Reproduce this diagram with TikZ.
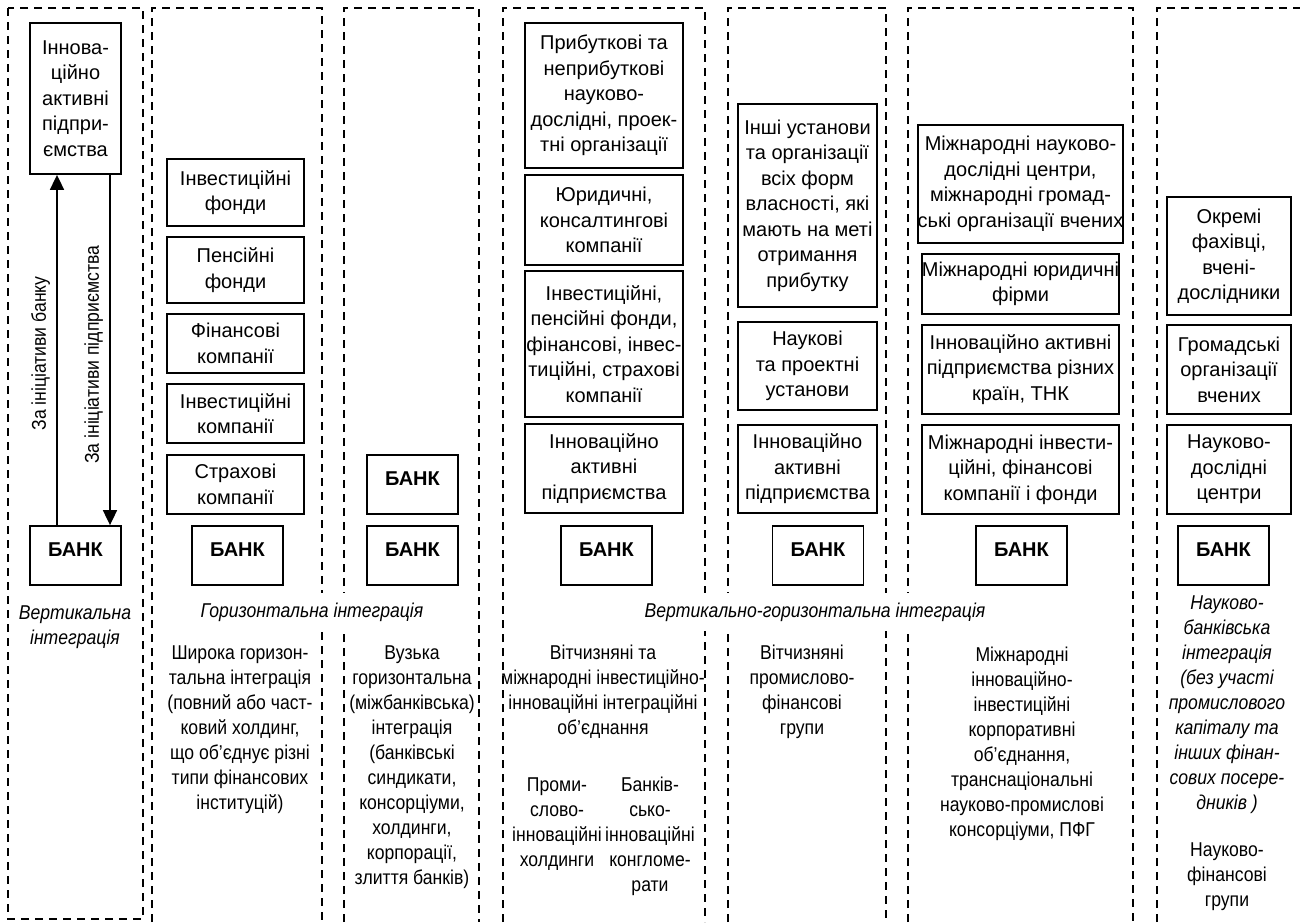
\documentclass[tikz,border=0pt]{standalone}
\usepackage{fontspec}
\setmainfont{Liberation Sans}
\newfontfamily\narrowfont[FakeStretch=0.88]{Liberation Sans}
\usetikzlibrary{arrows.meta}

\newcommand{\basefont}{\fontsize{20}{25.5}\selectfont}
\newcommand{\notefont}{\narrowfont\fontsize{20}{25}\selectfont}

\tikzset{
  frame/.style={dash pattern=on 8pt off 6pt, line width=1.5pt},
  box/.style={draw, line width=1.8pt, align=center, inner sep=0pt},
  bank/.style={box, minimum width=91pt, minimum height=59pt, text depth=12pt, font=\basefont\bfseries},
  note/.style={align=center, inner sep=0pt, font=\notefont},
  kind/.style={align=center, inner sep=0pt, font=\notefont\itshape},
  arr/.style={line width=1.8pt, -{Triangle[length=15pt,width=14pt]}},
}

\begin{document}
\begin{tikzpicture}[x=1pt, y=-1pt, font=\basefont]
            \useasboundingbox (0,0) rectangle (1300,922);

            \draw[frame] (8,8) rectangle (143,919);
            \draw[frame] (152,922) |- (322,8) -- (322,922);
            \draw[frame] (344,922) |- (479,8) -- (479,922);
            \draw[frame] (503,922) |- (705,8) -- (705,922);
            \draw[frame] (728,922) |- (886,8) -- (886,922);
            \draw[frame] (908,922) |- (1133,8) -- (1133,922);
            \draw[frame] (1157,922) |- (1300,8);

            \node[box, minimum width=91pt, minimum height=151pt] (vtop) at (75.5,98.5) {Іннова-\\ційно\\активні\\підпри-\\ємства};
            \node[bank] (vbank) at (75.5,555.5) {БАНК};
            \draw[arr] ([xshift=-18.5pt]vbank.north) -- ([xshift=-18.5pt]vtop.south)
                node[pos=0.49, sloped, above=6pt, inner sep=0pt, font=\notefont] {За ініціативи банку};
            \draw[arr, {Triangle[length=15pt,width=14pt]}-] ([xshift=34.5pt]vbank.north) -- ([xshift=34.5pt]vtop.south)
                node[pos=0.486, sloped, above=6pt, inner sep=0pt, font=\notefont] {За ініціативи підприємства};
            \node[kind] (vkind) at (75,627) {Вертикальна\\інтеграція};

            \node[box, minimum width=137pt, minimum height=67pt] (hfund) at (235.5,192.5) {Інвестиційні\\фонди};
            \node[box, minimum width=137pt, minimum height=66pt] (hpens) at (235.5,270) {Пенсійні\\фонди};
            \node[box, minimum width=137pt, minimum height=59pt] (hfin) at (235.5,343.5) {Фінансові\\компанії};
            \node[box, minimum width=137pt, minimum height=59pt] (hinv) at (235.5,413.5) {Інвестиційні\\компанії};
            \node[box, minimum width=137pt, minimum height=59pt] (hins) at (235.5,484.5) {Страхові\\компанії};
            \node[bank] (hbank) at (237.5,555.5) {БАНК};
            \node[note] (hwide) at (240,730) {Широка горизон-\\тальна інтеграція\\(повний або част-\\ковий холдинг,\\що об’єднує різні\\типи фінансових\\інституцій)};

            \node[bank] (nbanka) at (412.5,484.5) {БАНК};
            \node[bank] (nbankb) at (412.5,555.5) {БАНК};
            \node[note] (nnarrow) at (412,767) {Вузька\\горизонтальна\\(міжбанківська)\\інтеграція\\(банківські\\синдикати,\\консорціуми,\\холдинги,\\корпорації,\\злиття банків)};

            \node[kind, fill=white, inner ysep=10pt, inner xsep=3pt] (hkind) at (312,612) {Горизонтальна інтеграція};

            \node[box, minimum width=158pt, minimum height=145pt] (dsci) at (604,95.5) {Прибуткові та\\неприбуткові\\науково-\\дослідні, проек-\\тні організації};
            \node[box, minimum width=158pt, minimum height=90pt] (dlaw) at (604,220) {Юридичні,\\консалтингові\\компанії};
            \node[box, minimum width=158pt, minimum height=146pt] (dfin) at (604,344) {Інвестиційні,\\пенсійні фонди,\\фінансові, інвес-\\тиційні, страхові\\компанії};
            \node[box, minimum width=158pt, minimum height=89pt] (dent) at (604,468.5) {Інноваційно\\активні\\підприємства};
            \node[bank] (dbank) at (606.5,555.5) {БАНК};
            \node[note] (dunion) at (603,692) {Вітчизняні та\\міжнародні інвестиційно-\\інноваційні інтеграційні\\об’єднання};
            \node[note] (dhold) at (557,824) {Проми-\\слово-\\інноваційні\\холдинги};
            \node[note] (dcong) at (650,836) {Банків-\\сько-\\інноваційні\\конгломе-\\рати};

            \node[box, minimum width=139pt, minimum height=203pt] (pinst) at (807.5,205.5) {Інші установи\\та організації\\всіх форм\\власності, які\\мають на меті\\отримання\\прибутку};
            \node[box, minimum width=139pt, minimum height=88pt] (psci) at (807.5,366) {Наукові\\та проектні\\установи};
            \node[box, minimum width=139pt, minimum height=88pt] (pent) at (807.5,469) {Інноваційно\\активні\\підприємства};
            \node[bank] (pbank) at (818,555.5) {БАНК};
            \node[note] (pgroup) at (802,692) {Вітчизняні\\промислово-\\фінансові\\групи};

            \node[box, minimum width=197pt, minimum height=118pt] (isci) at (1020.5,184) {Міжнародні науково-\\дослідні центри,\\міжнародні громад-\\ські організації вчених};
            \node[box, minimum width=197pt, minimum height=60pt] (ilaw) at (1020.5,284) {Міжнародні юридичні\\фірми};
            \node[box, minimum width=197pt, minimum height=89pt] (ient) at (1020.5,369.5) {Інноваційно активні\\підприємства різних\\країн, ТНК};
            \node[box, minimum width=197pt, minimum height=89pt] (ifin) at (1020.5,469.5) {Міжнародні інвести-\\ційні, фінансові\\компанії і фонди};
            \node[bank] (ibank) at (1021.5,555.5) {БАНК};
            \node[note] (icorp) at (1022,744) {Міжнародні\\інноваційно-\\інвестиційні\\корпоративні\\об’єднання,\\транснаціональні\\науково-промислові\\консорціуми, ПФГ};

            \node[kind, fill=white, inner ysep=10pt, inner xsep=3pt] (vhkind) at (815,612) {Вертикально-горизонтальна інтеграція};

            \node[box, minimum width=124pt, minimum height=118pt] (sexp) at (1229,256) {Окремі\\фахівці,\\вчені-\\дослідники};
            \node[box, minimum width=124pt, minimum height=89pt] (sorg) at (1229,369.5) {Громадські\\організації\\вчених};
            \node[box, minimum width=124pt, minimum height=89pt] (scen) at (1229,469.5) {Науково-\\дослідні\\центри};
            \node[bank] (sbank) at (1223.5,555.5) {БАНК};
            \node[kind] (skind) at (1227,705) {Науково-\\банківська\\інтеграція\\(без участі\\промислового\\капіталу та\\інших фінан-\\сових посере-\\дників )};
            \node[note] (sgroup) at (1227,877) {Науково-\\фінансові\\групи};
        \end{tikzpicture}
\end{document}
